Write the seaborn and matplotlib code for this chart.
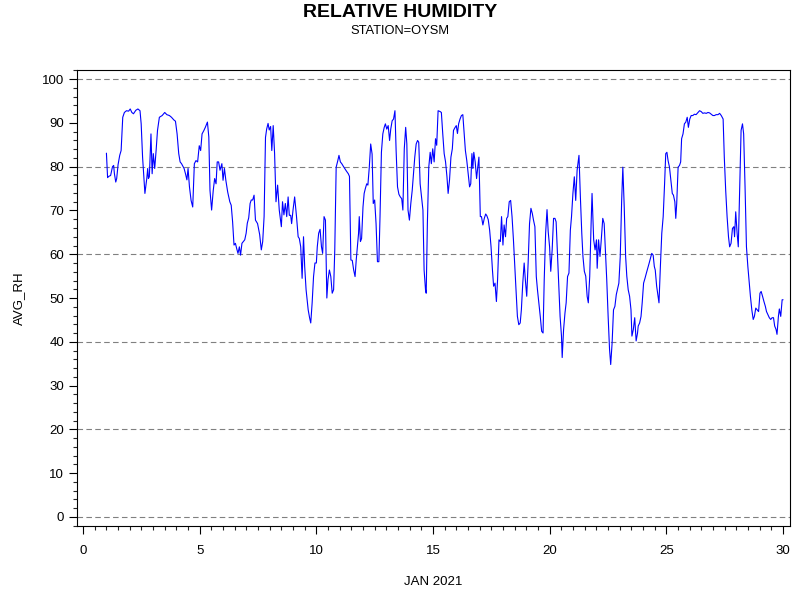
import matplotlib
matplotlib.use("Agg")
import matplotlib.pyplot as plt
from matplotlib.ticker import MultipleLocator
import pandas as pd
import seaborn as sns

# Werte (Tag im Januar 2021, mittlere rel. Feuchte)
day = [
    1.00, 1.05, 1.10, 1.18, 1.26, 1.31, 1.34, 1.40, 1.44, 1.50, 1.57, 1.63, 1.70, 1.77,
    1.86, 1.95, 2.02, 2.09, 2.16, 2.26, 2.35, 2.44, 2.49, 2.55, 2.65, 2.73, 2.77, 2.80,
    2.84, 2.91, 2.96, 3.01, 3.07, 3.13, 3.19, 3.27, 3.39, 3.50, 3.59, 3.70, 3.79, 3.89,
    3.96, 4.03, 4.10, 4.16, 4.22, 4.28, 4.33, 4.39, 4.45, 4.50, 4.56, 4.63, 4.70, 4.77,
    4.84, 4.91, 4.98, 5.04, 5.10, 5.18, 5.24, 5.33, 5.39, 5.44, 5.51, 5.58, 5.64, 5.70,
    5.75, 5.81, 5.87, 5.95, 6.00, 6.06, 6.12, 6.20, 6.29, 6.35, 6.41, 6.47, 6.53, 6.58,
    6.64, 6.70, 6.75, 6.81, 6.87, 6.93, 6.99, 7.04, 7.10, 7.16, 7.21, 7.27, 7.33, 7.39,
    7.48, 7.57, 7.64, 7.70, 7.76, 7.82, 7.87, 7.93, 7.98, 8.04, 8.09, 8.15, 8.21, 8.27,
    8.34, 8.41, 8.50, 8.55, 8.61, 8.67, 8.73, 8.79, 8.84, 8.90, 8.94, 9.00, 9.07, 9.15,
    9.22, 9.27, 9.33, 9.39, 9.45, 9.50, 9.56, 9.65, 9.71, 9.76, 9.82, 9.88, 9.94, 10.00,
    10.04, 10.10, 10.16, 10.22, 10.27, 10.33, 10.39, 10.45, 10.50, 10.56, 10.62, 10.68,
    10.74, 10.79, 10.85, 10.92, 10.97, 11.03, 11.09, 11.18, 11.29, 11.37, 11.42, 11.48,
    11.54, 11.60, 11.66, 11.71, 11.77, 11.81, 11.84, 11.89, 11.94, 12.00, 12.05, 12.10,
    12.16, 12.21, 12.27, 12.33, 12.39, 12.44, 12.50, 12.56, 12.62, 12.68, 12.73, 12.79,
    12.85, 12.91, 12.96, 13.02, 13.08, 13.14, 13.19, 13.25, 13.31, 13.37, 13.42, 13.48,
    13.54, 13.60, 13.66, 13.71, 13.77, 13.83, 13.88, 13.93, 13.99, 14.05, 14.11, 14.16,
    14.22, 14.28, 14.34, 14.39, 14.45, 14.51, 14.57, 14.62, 14.68, 14.71, 14.76, 14.82,
    14.88, 14.93, 14.99, 15.05, 15.11, 15.16, 15.22, 15.31, 15.36, 15.42, 15.48, 15.54,
    15.60, 15.65, 15.71, 15.77, 15.83, 15.88, 15.94, 16.00, 16.05, 16.10, 16.16, 16.22,
    16.28, 16.33, 16.39, 16.45, 16.51, 16.57, 16.62, 16.67, 16.71, 16.75, 16.81, 16.87,
    16.92, 16.97, 17.03, 17.08, 17.14, 17.20, 17.26, 17.31, 17.37, 17.43, 17.49, 17.55,
    17.60, 17.66, 17.72, 17.77, 17.83, 17.89, 17.94, 18.00, 18.05, 18.11, 18.16, 18.21,
    18.27, 18.33, 18.39, 18.45, 18.50, 18.56, 18.62, 18.68, 18.74, 18.79, 18.85, 18.91,
    18.96, 19.02, 19.08, 19.14, 19.20, 19.26, 19.31, 19.37, 19.43, 19.48, 19.54, 19.60,
    19.66, 19.72, 19.77, 19.83, 19.89, 19.94, 20.00, 20.05, 20.11, 20.17, 20.23, 20.28,
    20.34, 20.39, 20.45, 20.51, 20.54, 20.60, 20.66, 20.71, 20.77, 20.83, 20.89, 20.94,
    21.00, 21.06, 21.12, 21.18, 21.26, 21.32, 21.38, 21.43, 21.49, 21.55, 21.61, 21.66,
    21.72, 21.78, 21.82, 21.89, 21.95, 22.01, 22.04, 22.10, 22.16, 22.21, 22.28, 22.34,
    22.39, 22.45, 22.51, 22.57, 22.62, 22.68, 22.74, 22.80, 22.86, 22.91, 22.97, 23.03,
    23.09, 23.14, 23.20, 23.26, 23.31, 23.37, 23.43, 23.49, 23.53, 23.59, 23.65, 23.71,
    23.77, 23.80, 23.86, 23.92, 23.97, 24.03, 24.09, 24.15, 24.21, 24.26, 24.32, 24.38,
    24.44, 24.49, 24.53, 24.59, 24.65, 24.69, 24.75, 24.81, 24.87, 24.93, 24.98, 25.03,
    25.08, 25.14, 25.20, 25.26, 25.31, 25.37, 25.41, 25.45, 25.51, 25.57, 25.62, 25.66,
    25.72, 25.78, 25.84, 25.90, 25.95, 26.01, 26.07, 26.14, 26.21, 26.28, 26.36, 26.43,
    26.50, 26.57, 26.64, 26.72, 26.79, 26.86, 26.93, 27.00, 27.07, 27.14, 27.22, 27.29,
    27.36, 27.44, 27.49, 27.55, 27.61, 27.67, 27.72, 27.78, 27.84, 27.90, 27.93, 27.98,
    28.04, 28.09, 28.15, 28.21, 28.27, 28.32, 28.38, 28.44, 28.50, 28.56, 28.61, 28.67,
    28.73, 28.78, 28.84, 28.90, 28.96, 29.02, 29.07, 29.13, 29.19, 29.25, 29.30, 29.36,
    29.42, 29.48, 29.54, 29.60, 29.65, 29.71, 29.75, 29.81, 29.85, 29.91, 29.97, 30.01,
]
avg_rh = [
    83.1, 77.5, 77.8, 78.0, 80.0, 80.3, 78.5, 76.5, 77.3, 80.5, 82.6, 83.7, 91.3, 92.4,
    92.8, 92.7, 93.2, 92.4, 92.1, 92.9, 93.2, 92.8, 89.8, 82.2, 73.9, 77.3, 79.6, 77.3,
    77.7, 87.5, 78.4, 83.0, 79.6, 83.7, 88.3, 91.3, 91.7, 92.4, 91.9, 91.7, 91.3, 90.7,
    90.4, 87.5, 83.0, 81.1, 80.7, 80.1, 79.6, 78.4, 77.0, 79.6, 75.4, 72.3, 70.8, 80.7,
    81.4, 81.1, 84.8, 83.7, 87.5, 88.3, 89.0, 90.2, 86.8, 74.6, 70.1, 74.6, 77.3, 76.1,
    81.1, 81.1, 79.2, 80.7, 76.9, 79.6, 76.9, 74.2, 72.0, 71.2, 67.4, 62.1, 62.5, 61.4,
    60.2, 61.7, 59.8, 62.5, 62.9, 63.3, 64.8, 67.1, 68.3, 71.6, 72.4, 72.4, 73.5, 67.8,
    67.0, 64.5, 61.0, 62.9, 68.6, 86.7, 88.6, 89.9, 88.4, 89.2, 83.7, 89.4, 83.0, 72.0,
    75.8, 70.1, 66.3, 72.0, 69.0, 71.6, 68.6, 73.1, 68.9, 68.9, 67.0, 70.1, 73.1, 68.6,
    64.0, 63.6, 61.7, 54.5, 64.0, 57.2, 51.9, 47.3, 45.5, 44.3, 48.9, 54.9, 58.0, 58.0,
    61.7, 64.8, 65.7, 61.7, 60.2, 68.6, 67.8, 50.0, 54.2, 56.4, 54.9, 51.1,
    51.9, 61.0, 79.9, 81.4, 82.6, 81.1, 80.7, 79.9, 79.0, 78.4, 77.8, 58.7,
    58.6, 56.4, 54.9, 58.7, 62.5, 64.8, 68.6, 62.9, 63.6, 70.8, 73.9, 75.0,
    76.1, 75.8, 79.9, 85.2, 82.9, 71.6, 72.4, 67.0, 58.3, 58.3, 68.6, 83.3,
    87.5, 89.0, 89.8, 88.6, 89.4, 86.0, 88.6, 90.5, 90.9, 92.8, 83.7, 75.4,
    73.7, 73.1, 72.7, 70.1, 84.1, 89.0, 85.2, 70.1, 67.8, 71.6, 74.6, 78.0,
    82.2, 85.2, 86.0, 85.6, 76.1, 73.1, 70.1, 56.4, 51.9, 51.1, 67.0, 79.9,
    83.3, 80.7, 84.1, 81.1, 86.4, 84.9, 92.8, 92.6, 92.4, 87.5, 83.0, 81.1,
    77.7, 73.9, 77.0, 82.2, 84.1, 88.3, 88.9, 89.4, 87.6, 89.8, 90.9, 91.7,
    91.9, 88.3, 83.7, 81.4, 78.4, 75.4, 76.1, 83.0, 79.6, 83.3, 81.1, 77.3,
    79.9, 82.2, 68.6, 68.6, 66.7, 68.2, 69.2, 68.8, 67.9, 65.5, 61.7, 56.4,
    52.7, 53.4, 49.2, 54.2, 63.3, 62.9, 68.6, 62.1, 66.7, 64.0, 68.2, 68.6,
    72.0, 72.3, 68.6, 63.3, 58.0, 51.9, 45.8, 43.9, 44.3, 47.3, 53.4, 58.0,
    54.2, 50.4, 58.0, 67.0, 70.5, 69.3, 67.8, 66.3, 54.9, 51.9, 48.9, 45.8,
    42.4, 42.0, 54.2, 64.8, 70.2, 65.2, 61.7, 56.1, 61.0, 68.2, 68.2, 67.4,
    59.5, 53.4, 45.8, 41.3, 36.4, 42.8, 46.6, 48.9, 54.9, 55.7, 65.5, 68.6,
    73.9, 77.7, 72.3, 79.2, 82.6, 73.1, 64.8, 59.5, 56.1, 55.0, 50.4, 48.9,
    54.9, 67.0, 73.9, 63.3, 61.0, 63.3, 56.8, 63.3, 59.5, 62.9, 68.2, 67.0,
    61.0, 54.2, 45.8, 38.3, 34.8, 39.7, 47.3, 48.1, 50.8, 52.0, 53.4, 59.5,
    72.3, 79.9, 70.8, 59.5, 55.0, 51.9, 50.4, 47.3, 41.3, 42.8, 45.5, 40.2,
    42.0, 43.6, 44.3, 45.8, 48.9, 53.4, 54.5, 55.7, 56.8, 57.8, 59.0, 60.2,
    59.8, 57.2, 56.4, 52.7, 50.4, 48.9, 57.2, 64.8, 68.6, 76.1, 83.0, 83.3,
    81.4, 79.9, 76.9, 73.9, 73.5, 72.0, 68.2, 71.6, 79.9, 80.3, 81.1, 86.4,
    87.5, 89.8, 90.2, 91.3, 89.0, 90.9, 91.7, 91.7, 92.0, 91.9, 92.4, 92.8,
    92.6, 92.2, 92.3, 92.2, 92.4, 92.3, 92.0, 91.7, 91.7, 91.9, 91.9, 92.2,
    91.7, 90.9, 82.2, 74.6, 68.6, 64.0, 61.7, 62.5, 65.9, 66.3, 64.0, 69.7,
    64.8, 61.7, 74.6, 88.3, 89.8, 87.5, 75.4, 61.7, 57.2, 53.4, 50.4, 47.3,
    45.1, 45.8, 47.7, 47.3, 46.9, 51.1, 51.5, 50.4, 49.2, 48.1, 46.9, 46.2,
    45.5, 45.1, 45.5, 45.5, 43.6, 42.8, 41.7, 45.8, 47.5, 45.8, 49.6, 49.6,
]

df = pd.DataFrame({"day": day, "AVG_RH": avg_rh})

sns.set_style("ticks")
plt.rcParams["font.family"] = ["Liberation Sans", "DejaVu Sans"]
plt.rcParams["text.color"] = "black"
plt.rcParams["axes.labelcolor"] = "black"

fig = plt.figure(figsize=(8, 6), dpi=100)
ax = fig.add_axes([0.096, 0.1233, 0.891, 0.76])

# gestrichelte Referenzlinien
for yv in range(0, 101, 20):
    ax.axhline(yv, color="#808080", linestyle=(0, (5, 3)), linewidth=0.8, zorder=1)

sns.lineplot(data=df, x="day", y="AVG_RH", color="#0000FF", linewidth=0.8,
             ax=ax, zorder=3)

ax.set_xlim(-0.27, 30.29)
ax.set_ylim(-2.1, 102.1)
ax.xaxis.set_major_locator(MultipleLocator(5))
ax.xaxis.set_minor_locator(MultipleLocator(0.5))
ax.yaxis.set_major_locator(MultipleLocator(10))
ax.yaxis.set_minor_locator(MultipleLocator(2))
ax.tick_params(which="major", length=6, width=0.8, direction="out",
               labelsize=9.5, colors="black", pad=3)
ax.tick_params(which="minor", length=3, width=0.8, direction="out")
ax.tick_params(axis="x", pad=8)

for s in ax.spines.values():
    s.set_visible(True)
    s.set_color("black")
    s.set_linewidth(0.8)

ax.set_xlabel("JAN 2021", fontsize=9.5, labelpad=13)
ax.set_ylabel("AVG_RH", fontsize=9.5, labelpad=12)

fig.text(0.5, 0.9712, "RELATIVE HUMIDITY", ha="center", va="baseline",
         fontsize=14, fontweight="bold")
fig.text(0.5, 0.9428, "STATION=OYSM", ha="center", va="baseline", fontsize=9.3)

fig.savefig("out.png", dpi=100)
